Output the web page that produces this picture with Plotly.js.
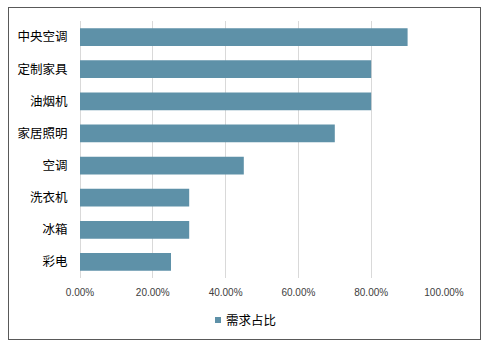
<!DOCTYPE html>
<html><head><meta charset="utf-8">
<script src="https://cdn.plot.ly/plotly-3.0.1.min.js"></script>
<style>
html,body{margin:0;padding:0;background:#fff;}
#chart{position:absolute;left:0;top:0;width:489px;height:345px;}
#frame{position:absolute;left:8px;top:7px;width:471px;height:331px;border:1.5px solid #595959;pointer-events:none;}
</style></head>
<body>
<div id="chart"></div>
<div id="frame"></div>
<script>
const categories = ['中央空调','定制家具','油烟机','家居照明','空调','洗衣机','冰箱','彩电'];
const values = [0.90, 0.80, 0.80, 0.70, 0.45, 0.30, 0.30, 0.25];
const seriesName = '需求占比';
const tickVals = [0, 0.2, 0.4, 0.6, 0.8, 1.0];
const tickText = ['0.00%','20.00%','40.00%','60.00%','80.00%','100.00%'];

const barColor = '#5E91A8';
const font = 'Noto Sans CJK SC, Liberation Sans, Arial, sans-serif';
Plotly.newPlot('chart', [{
  type: 'bar', orientation: 'h',
  x: values, y: categories, name: seriesName,
  marker: {color: barColor},
  showlegend: false, hoverinfo: 'none'
}], {
  width: 489, height: 345,
  margin: {l: 80.3, r: 44.7, t: 21, b: 67},
  paper_bgcolor: 'rgba(0,0,0,0)', plot_bgcolor: 'rgba(0,0,0,0)',
  bargap: 0.45,
  font: {family: font, color: '#404040'},
  xaxis: {range: [0, 1], tickvals: tickVals, ticktext: tickText,
    showgrid: true, gridcolor: '#D9D9D9', gridwidth: 1, zeroline: true, zerolinecolor: '#D9D9D9',
    showline: false, ticks: 'outside', ticklen: 5, tickcolor: 'rgba(0,0,0,0)',
    tickfont: {size: 10, color: '#404040', family: 'Liberation Sans, Arial, sans-serif'}, fixedrange: true},
  yaxis: {categoryorder: 'array', categoryarray: categories.slice().reverse(),
    autorange: true, showgrid: false, zeroline: false, showline: false,
    ticks: 'outside', ticklen: 9, tickcolor: 'rgba(0,0,0,0)',
    tickfont: {size: 12.5, color: '#000000', family: font}, fixedrange: true},
  shapes: [{type: 'rect', xref: 'paper', yref: 'paper',
    xsizemode: 'pixel', ysizemode: 'pixel', xanchor: 0, yanchor: 0,
    x0: 135, x1: 141, y0: -45, y1: -39,
    fillcolor: barColor, line: {width: 0}}],
  annotations: [{text: seriesName, xref: 'paper', yref: 'paper',
    x: 0.395, xanchor: 'left', y: -0.1634, yanchor: 'middle', showarrow: false,
    font: {size: 12.5, color: '#000000', family: font}}]
}, {displayModeBar: false, staticPlot: true});
</script>
</body></html>
